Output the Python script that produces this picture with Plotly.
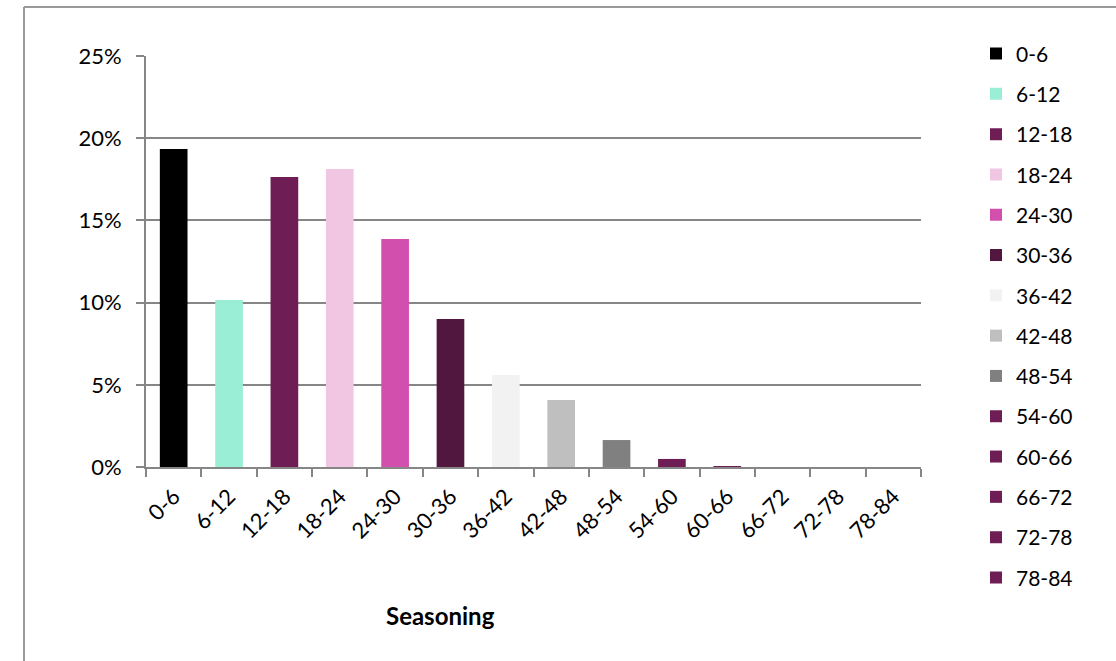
import plotly.graph_objects as go

categories = ["0-6", "6-12", "12-18", "18-24", "24-30", "30-36", "36-42",
              "42-48", "48-54", "54-60", "60-66", "66-72", "72-78", "78-84"]
values = [0.1934, 0.1016, 0.1764, 0.1813, 0.1387, 0.0900, 0.0560,
          0.0408, 0.0164, 0.0049, 0.0005, 0.0, 0.0, 0.0]
colors = ["#000000", "#99EED5", "#6E1E55", "#F0C6E3", "#D34FAD", "#52173F", "#F2F2F2",
          "#BFBFBF", "#808080", "#6E1E55", "#6E1E55", "#6E1E55", "#6E1E55", "#6E1E55"]
y_ticks = [0, 0.05, 0.10, 0.15, 0.20, 0.25]
y_ticklabels = ["0%", "5%", "10%", "15%", "20%", "25%"]

FONT = "Lato"
fig = go.Figure()
for cat, val, col in zip(categories, values, colors):
    fig.add_trace(go.Bar(
        x=[cat], y=[val], name=cat, marker=dict(color=col, line=dict(width=0)),
        width=0.5, legendgroup=cat,
    ))

fig.update_layout(
    width=1116, height=661,
    paper_bgcolor="white", plot_bgcolor="white",
    margin=dict(l=146, r=195, t=56, b=194),
    barmode="overlay",
    font=dict(family=FONT, size=22, color="#000000"),
    showlegend=True,
    legend=dict(x=(976 - 146) / 775, y=1.055, xanchor="left", yanchor="top",
                font=dict(family=FONT, size=21), traceorder="grouped",
                tracegroupgap=10, bgcolor="rgba(0,0,0,0)", maxheight=655),
    xaxis=dict(
        type="category", categoryorder="array", categoryarray=categories,
        tickangle=-45, showline=True, linecolor="#868686", linewidth=2,
        ticks="outside", ticklen=8, tickcolor="#868686", tickwidth=2,
        tickson="boundaries", showgrid=False, ticklabelstandoff=6,
        tickfont=dict(family=FONT, size=22),
    ),
    yaxis=dict(
        range=[0, 0.25], tickvals=y_ticks, ticktext=y_ticklabels,
        showline=True, linecolor="#868686", linewidth=2,
        ticks="outside", ticklen=8, tickcolor="#868686", tickwidth=2,
        showgrid=True, gridcolor="#868686", gridwidth=1.5, ticklabelstandoff=10,
        zeroline=False, tickfont=dict(family=FONT, size=22),
    ),
    annotations=[dict(
        text="<b>Seasoning</b>", xref="paper", yref="paper",
        x=(440 - 146) / 775, y=-(615 - 467) / 411, xanchor="center", yanchor="middle",
        showarrow=False, font=dict(family=FONT, size=24),
    )],
    shapes=[
        dict(type="line", xref="paper", yref="paper",
             x0=(24 - 146) / 775, x1=(1116 - 146) / 775, y0=(467 - 7) / 411, y1=(467 - 7) / 411,
             line=dict(color="#999999", width=2)),
        dict(type="line", xref="paper", yref="paper",
             x0=(24 - 146) / 775, x1=(24 - 146) / 775, y0=(467 - 7) / 411, y1=(467 - 661) / 411,
             line=dict(color="#999999", width=2)),
    ],
)

fig.write_html("out.html", config={"displayModeBar": False},
               post_script="document.body.style.margin='0';document.body.style.overflow='hidden';")
